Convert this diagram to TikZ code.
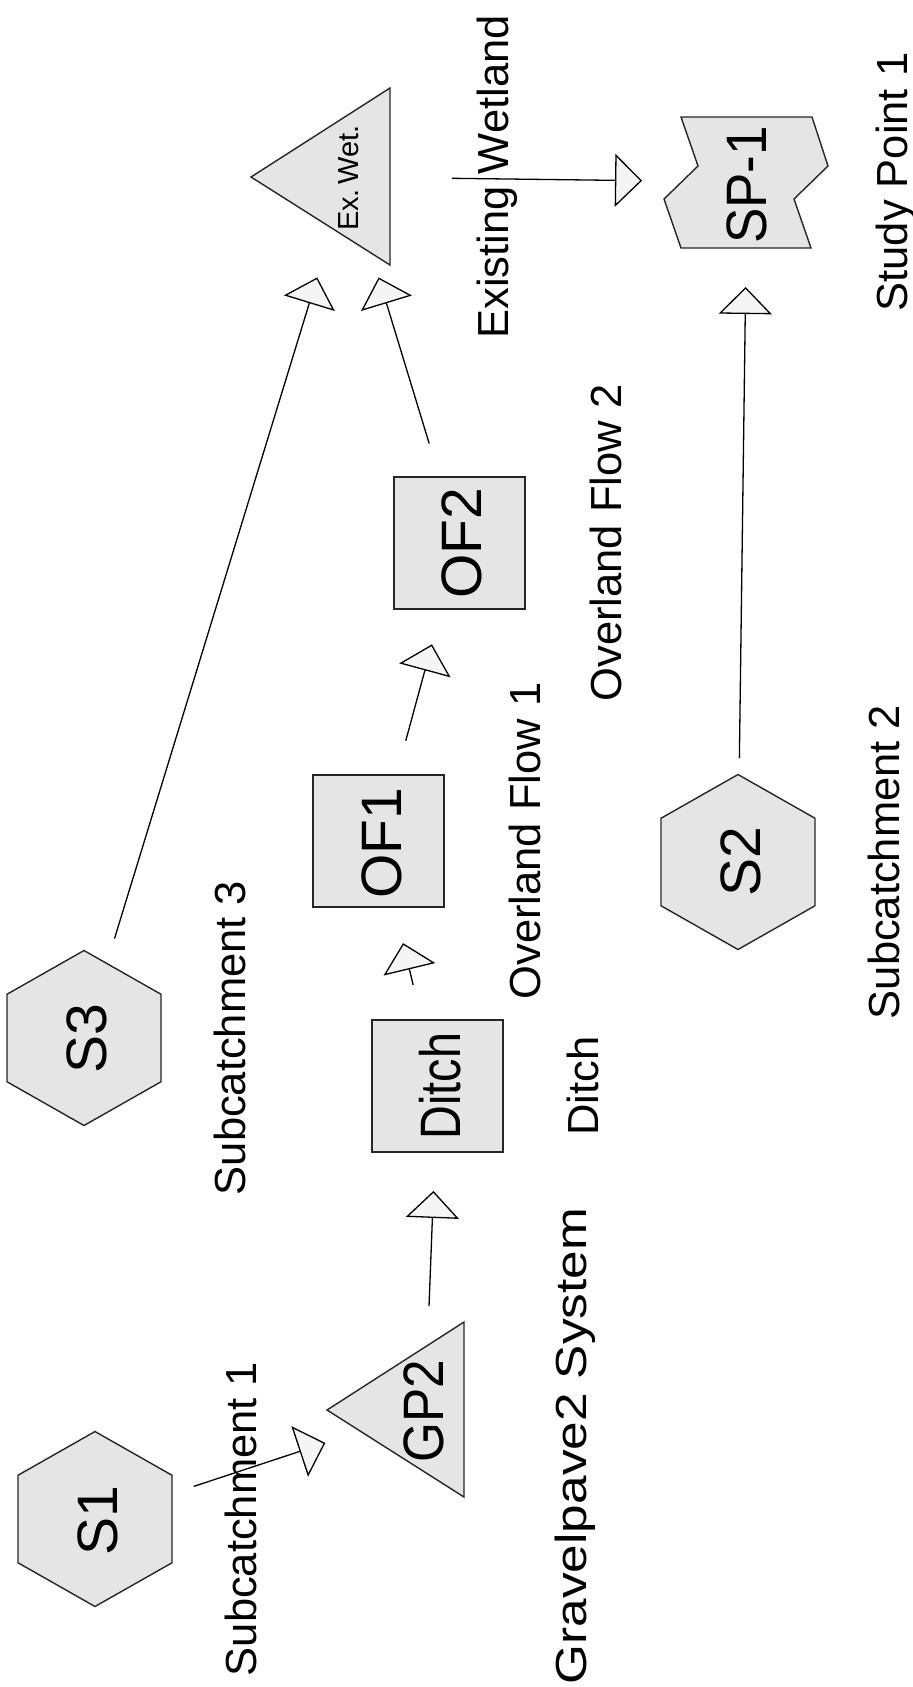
\documentclass[tikz,border=0pt]{standalone}
\usepackage{fontspec}
\setmainfont{Liberation Sans}
\usetikzlibrary{arrows.meta,calc}
\definecolor{nodefill}{gray}{0.9}
\definecolor{tipfill}{gray}{0.96}
\begin{document}
\begin{tikzpicture}[x=1pt,y=-1pt,
  shp/.style={draw=black!85, line width=1.4pt, fill=nodefill, line join=miter},
  big/.style={font=\fontsize{57}{57}\selectfont, rotate=90, inner sep=0},
  small/.style={font=\fontsize{29}{29}\selectfont, rotate=90, inner sep=0},
  lab/.style={font=\fontsize{43.5}{44}\selectfont, rotate=90, anchor=base, inner sep=0},
  flow/.style={line width=1.3pt, -{Triangle[length=27pt,width=53pt,fill=tipfill]}, shorten <=104pt, shorten >=105pt}
]
\useasboundingbox (0,0) rectangle (913,1687);
% shapes
\foreach \cx/\cy in {95/1519, 84/1038, 738/862}{
  \draw[shp, shift={(\cx,\cy)}] (0,-87.5) -- (77,-43.75) -- (77,43.75) -- (0,87.5) -- (-77,43.75) -- (-77,-43.75) -- cycle;
}
\draw[shp] (327,1410) -- (464,1322) -- (464,1497) -- cycle;
\draw[shp] (251,177) -- (390,88) -- (390,265) -- cycle;
\draw[shp] (372,1020) rectangle (503,1152);
\draw[shp] (313,775) rectangle (444,907);
\draw[shp] (394,477) rectangle (525,609);
\draw[shp] (681,117) -- (812,117) -- (828,166) -- (794,199) -- (811,248) -- (681,248) -- (664,199) -- (698,166) -- cycle;
% node texts
\node[big] (S1) at (98,1521) {S1};
\node[big] (S3) at (87,1039) {S3};
\node[big] (S2) at (741,862) {S2};
\node[big] (GP2) at (424,1411) {\scalebox{0.9}[1]{GP2}};
\node[big] (Ditch) at (440,1086) {\scalebox{0.82}[1]{Ditch}};
\node[big] (OF1) at (382,843) {OF1};
\node[big] (OF2) at (462,543) {OF2};
\node[small] (ExWet) at (349,178) {Ex.\,Wet.};
\node[big] (SP1) at (747,185) {\scalebox{0.93}[1]{SP-1}};
% connector centres
\coordinate (cS1) at (95,1519);
\coordinate (cGP2) at (425,1410);
\coordinate (cDitch) at (437.5,1086);
\coordinate (cOF1) at (378.5,841);
\coordinate (cOF2) at (459.5,543);
\coordinate (cEW) at (348,177);
\coordinate (cS3) at (84,1038);
\coordinate (cS2) at (738,862);
\coordinate (cSP1) at (747,182);
% labels
\node[lab] (L1) at (256,1519) {Subcatchment 1};
\node[lab] (L3) at (245,1038) {Subcatchment 3};
\node[lab] (L2) at (899,862) {Subcatchment 2};
\node[lab] (LGP) at (586,1446) {\scalebox{1.18}[1]{Gravelpave2 System}};
\node[lab] (LD) at (598,1086) {Ditch};
\node[lab] (LO1) at (540,841) {Overland Flow 1};
\node[lab] (LO2) at (621,543) {Overland Flow 2};
\node[lab] (LEW) at (508,177) {Existing Wetland};
\node[lab] (LSP) at (907,182) {Study Point 1};
% connectors
\draw[flow] (cS1) -- (cGP2);
\draw[flow] (cGP2) -- (cDitch);
\draw[flow] (cDitch) -- (cOF1);
\draw[flow] (cOF1) -- (cOF2);
\draw[flow] (cOF2) -- (cEW);
\draw[flow] (cS3) -- (cEW);
\draw[flow] (cEW) -- (cSP1);
\draw[flow] (cS2) -- (cSP1);
\end{tikzpicture}
\end{document}
